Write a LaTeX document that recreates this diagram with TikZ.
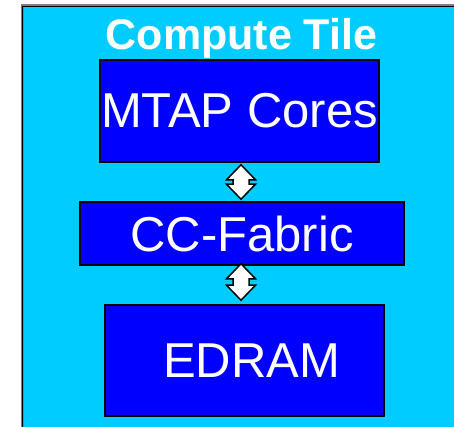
\documentclass[tikz,border=0pt]{standalone}
\usepackage{fontspec}
\setmainfont{Liberation Sans}
\usetikzlibrary{calc}
\definecolor{tilecyan}{HTML}{00CCFF}
\definecolor{boxblue}{HTML}{0000FF}
\tikzset{
  unitbox/.style={draw=black, line width=1.6pt, fill=boxblue, text=white, inner sep=0pt,
    font=\fontsize{49}{52}\selectfont},
  linkarrow/.style={draw=black, line width=1.5pt, fill=white, line join=miter}
}
\newcommand\linkarrowpath[2]{%
  \draw[linkarrow] let \p1=(#1), \p2=(#2) in
    (\x1,\y1) -- ++(14.5,15) -- ++(-6.5,0) -- (\x2+8pt,\y2+15pt) -- ++(6.5,0)
    -- (\x2,\y2) -- ++(-14.5,-15) -- ++(6.5,0) -- (\x1-8pt,\y1-15pt) -- ++(-6.5,0) -- cycle;}
\begin{document}
\begin{tikzpicture}[x=1pt,y=-1pt]
\useasboundingbox (0,0) rectangle (454,427);
\fill[white] (0,0) rectangle (454,427);
\draw[gray, line width=3pt, fill=tilecyan] (22,6) rectangle (470,440);
\draw[black, line width=1.3pt] (22.5,6.5) rectangle (470,440);
\node[font=\bfseries\fontsize{43}{45}\selectfont, text=white, anchor=base] (title) at (241.5,50) {Compute Tile};
\node[unitbox, minimum width=279pt, minimum height=102pt] (mtap) at (239.5,111) {MTAP Cores};
\node[unitbox, minimum width=324pt, minimum height=63pt] (fabric) at (242,233.5) {CC-Fabric};
\node[unitbox, minimum width=279pt, minimum height=111pt] (edram) at (244.5,360.5) {\hspace*{14pt}EDRAM};
\coordinate (a1t) at ($(mtap.south)+(1.5,2)$);
\coordinate (a1b) at ($(fabric.north)+(-1,-2)$);
\coordinate (a2t) at ($(fabric.south)+(-1,-2)$);
\coordinate (a2b) at ($(edram.north)+(-3.5,-4)$);
\linkarrowpath{a1t}{a1b}
\linkarrowpath{a2t}{a2b}
\end{tikzpicture}
\end{document}
